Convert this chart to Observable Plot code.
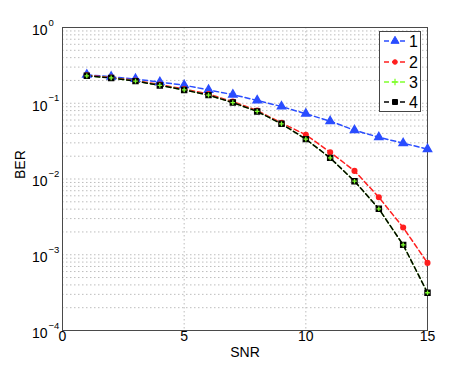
<!DOCTYPE html>
<html><head><meta charset="utf-8">
<script src="https://cdn.jsdelivr.net/npm/d3@7"></script>
<script src="https://cdn.jsdelivr.net/npm/@observablehq/plot@0.6"></script>
<style>
body{margin:0;background:#fff;font-family:"Liberation Sans",Arial,sans-serif}
#c{position:relative;width:471px;height:371px}
#legend{position:absolute;left:379px;top:31px;width:42px;height:81px;border:1px solid #444;background:#fff;box-sizing:border-box}
</style></head><body><div id="c"></div>
<script>
const snr = [1,2,3,4,5,6,7,8,9,10,11,12,13,14,15];
const ber1 = [0.238,0.224,0.209,0.190,0.173,0.150,0.130,0.109,0.0906,0.0726,0.058,0.044,0.0356,0.0297,0.0248];
const ber2 = [0.233,0.219,0.200,0.176,0.154,0.132,0.105,0.080,0.055,0.0383,0.0226,0.0128,0.00575,0.00229,0.00078];
const ber3 = [0.230,0.216,0.196,0.172,0.150,0.128,0.102,0.078,0.0535,0.0336,0.0190,0.00935,0.00404,0.00135,0.000315];
const ber4 = [0.230,0.216,0.196,0.172,0.150,0.128,0.102,0.078,0.0535,0.0336,0.0190,0.00935,0.00404,0.00135,0.000315];
const seriesNames = ["1","2","3","4"];
const colors = ["#2a4dff","#ff1f1f","#80ff2e","#000000"];
const xTicks = [0,5,10,15];
const xGrid = [5,10];
const yDecades = [-4,-3,-2,-1,0];

const allSeries = [ber1,ber2,ber3,ber4];
const rows = allSeries.flatMap((s,i)=>s.map((v,j)=>({snr:snr[j], ber:v, series:seriesNames[i]})));
const yGrid = [];
for (const d of yDecades.slice(0,-1)) for (let m=1;m<10;m++) yGrid.push(m*10**d);
yGrid.push(1);

const gridStyle = {stroke:"#bdbdbd", strokeWidth:1, strokeDasharray:"1.5,2.5"};
const markStyles = [
  {symbol:"triangle", r:3, fill:colors[0], stroke:colors[0]},
  {symbol:"circle", r:2.3, fill:colors[1], stroke:colors[1]},
  {symbol:"plus", r:1.6, stroke:colors[2], fill:"none", strokeWidth:1.3},
  {symbol:"square", r:2.8, fill:colors[3], stroke:colors[3]}
];

const marks = [
  Plot.ruleY(yGrid, gridStyle),
  Plot.ruleX(xGrid, gridStyle),
  Plot.frame({stroke:"#4a4a4a"})
];
seriesNames.forEach((name,i)=>{
  const data = rows.filter(r=>r.series===name);
  marks.push(Plot.line(data,{x:"snr", y:"ber", stroke:colors[i], strokeWidth:1.5, strokeDasharray:"5,3"}));
});
[0,1,3,2].forEach(i=>{
  const data = rows.filter(r=>r.series===seriesNames[i]);
  marks.push(Plot.dot(data,{x:"snr", y:"ber", ...markStyles[i]}));
});
marks.push(
  Plot.text(xTicks,{x:d=>d, frameAnchor:"bottom", dy:10, text:d=>String(d), fontSize:14, fill:"#000"}),
  Plot.text(yDecades,{y:d=>10**d, frameAnchor:"left", dx:-15, dy:3, textAnchor:"end", text:()=> "10", fontSize:14, fill:"#000"}),
  Plot.text(yDecades,{y:d=>10**d, frameAnchor:"left", dx:-14, dy:-5, textAnchor:"start", text:d=>d===0?"0":"\u2212"+(-d), fontSize:9.5, fill:"#000"}),
  Plot.text(["SNR"],{frameAnchor:"bottom", dy:26, text:d=>d, fontSize:14, fill:"#000"}),
  Plot.text(["BER"],{frameAnchor:"left", dx:-42, rotate:-90, text:d=>d, fontSize:14, fill:"#000"})
);

const chart = Plot.plot({
  width:471, height:371,
  marginLeft:62, marginRight:44, marginTop:27, marginBottom:41,
  style:{fontFamily:"'Liberation Sans', Arial, sans-serif", background:"#fff"},
  x:{domain:[0,15], axis:null},
  y:{type:"log", domain:[1e-4,1], axis:null},
  marks
});
const c = document.getElementById("c");
c.appendChild(chart);

// legend
const lg = d3.select(c).append("div").attr("id","legend");
const lsvg = lg.append("svg").attr("width",40).attr("height",79).style("display","block");
const rowY = [9,30,50,70];
seriesNames.forEach((name,i)=>{
  const g = lsvg.append("g").attr("transform",`translate(0,${rowY[i]})`);
  g.append("line").attr("x1",4).attr("x2",26).attr("y1",0).attr("y2",0)
    .attr("stroke",colors[i]).attr("stroke-width",1.5).attr("stroke-dasharray","5,3");
  const ms = markStyles[i];
  const sym = {triangle:d3.symbolTriangle, circle:d3.symbolCircle, plus:d3.symbolPlus, square:d3.symbolSquare}[ms.symbol];
  g.append("path").attr("transform","translate(15,0)")
    .attr("d", d3.symbol(sym, Math.PI*ms.r*ms.r*(i===2?2:1))())
    .attr("fill", ms.fill).attr("stroke", ms.stroke).attr("stroke-width", ms.strokeWidth||1);
  g.append("text").attr("x",29).attr("y",0).attr("dy","0.36em")
    .attr("font-size",16).attr("fill","#000").text(name);
});
</script></body></html>
